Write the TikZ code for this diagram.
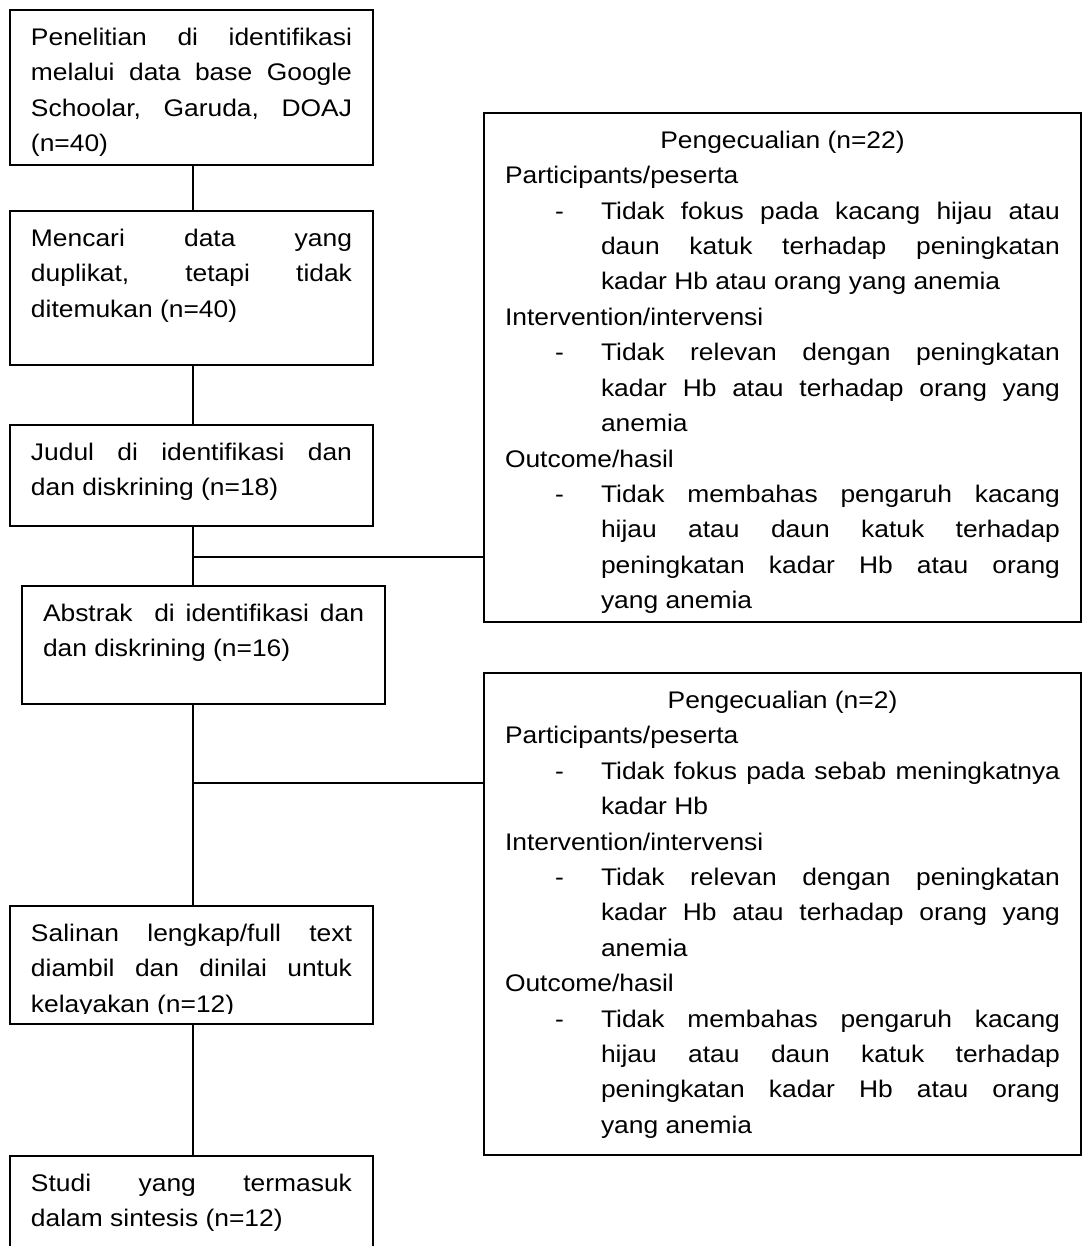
\documentclass[tikz,border=0pt]{standalone}
\usepackage{fontspec}
\setmainfont{Liberation Sans}[FakeStretch=1.1]
\usepackage{tikz}
\hbadness=10000
\hfuzz=3pt

\newcommand{\lefttext}[2]{\begin{minipage}[t][#1][t]{160.5pt}\fontsize{12}{17.7}\selectfont\hyphenpenalty=10000\rule{0pt}{17.7pt}#2\end{minipage}}
\newcommand{\righttext}[2]{\begin{minipage}[t][#1][t]{277.5pt}\fontsize{12}{17.7}\selectfont\hyphenpenalty=10000 #2\end{minipage}}
\newcommand{\dashitem}[1]{{\leftskip=48pt\noindent\llap{-\hspace{18.6pt}}#1\par}}

\begin{document}
\begin{tikzpicture}[x=0.5pt, y=-0.5pt, line width=0.6pt]
    \tikzset{flowbox/.style={draw, inner xsep=10.5pt, inner ysep=0pt, outer sep=0pt, anchor=north west}}
    \useasboundingbox (0,0) rectangle (1086,1246);

    \node[flowbox] (b1) at (10,10) {\lefttext{77.5pt}{Penelitian di identifikasi\linebreak melalui data base Google\linebreak Schoolar, Garuda, DOAJ\linebreak (n=40)}};
    \node[flowbox] (b2) at (10,211) {\lefttext{77pt}{Mencari data yang\linebreak duplikat, tetapi tidak\linebreak ditemukan (n=40)}};
    \node[flowbox] (b3) at (10,425) {\lefttext{50.5pt}{Judul di identifikasi dan\linebreak dan diskrining (n=18)}};
    \node[flowbox] (b4) at (22,586) {\lefttext{59pt}{Abstrak~ di identifikasi dan\linebreak dan diskrining (n=16)}};
    \node[flowbox] (b5) at (10,906) {\lefttext{59pt}{Salinan lengkap/full text\linebreak diambil dan dinilai untuk\linebreak kelayakan (n=12)}};
    \node[flowbox, draw=none] (b6) at (10,1156) {\lefttext{45pt}{Studi yang termasuk\linebreak dalam sintesis (n=12)}};

    \node[flowbox] (e1) at (484,113) {\righttext{254.5pt}{%
        {\centering\rule{0pt}{17.7pt}Pengecualian (n=22)\par}
        Participants/peserta\par
        \dashitem{Tidak fokus pada kacang hijau atau\linebreak daun katuk terhadap peningkatan\linebreak kadar Hb atau orang yang anemia}
        Intervention/intervensi\par
        \dashitem{Tidak relevan dengan peningkatan\linebreak kadar Hb atau terhadap orang yang\linebreak anemia}
        Outcome/hasil\par
        \dashitem{Tidak membahas pengaruh kacang\linebreak hijau atau daun katuk terhadap\linebreak peningkatan kadar Hb atau orang\linebreak yang anemia}}};
    \node[flowbox] (e2) at (484,673) {\righttext{241pt}{%
        {\centering\rule{0pt}{17.7pt}Pengecualian (n=2)\par}
        Participants/peserta\par
        \dashitem{Tidak fokus pada sebab meningkatnya\linebreak kadar Hb}
        Intervention/intervensi\par
        \dashitem{Tidak relevan dengan peningkatan\linebreak kadar Hb atau terhadap orang yang\linebreak anemia}
        Outcome/hasil\par
        \dashitem{Tidak membahas pengaruh kacang\linebreak hijau atau daun katuk terhadap\linebreak peningkatan kadar Hb atau orang\linebreak yang anemia}}};

    % last line of b5 is cut off by the frame
    \fill[white] ([shift={(0.6,-0.6)}]b5.south west) rectangle ([shift={(-0.6,-10.5)}]b5.south east);
    % b6 runs off the bottom of the page
    \draw (b6.south west) -- (b6.north west) -- (b6.north east) -- (b6.south east);

    \coordinate (t1) at (193,557);
    \coordinate (t2) at (193,783);

    \draw (b1.south -| t1) -- (b2.north -| t1);
    \draw (b2.south -| t1) -- (b3.north -| t1);
    \draw (b3.south -| t1) -- (b4.north -| t1);
    \draw (t1) -- (t1 -| e1.west);
    \draw (b4.south -| t1) -- (b5.north -| t1);
    \draw (t2) -- (t2 -| e2.west);
    \draw (b5.south -| t1) -- (b6.north -| t1);
\end{tikzpicture}
\end{document}
